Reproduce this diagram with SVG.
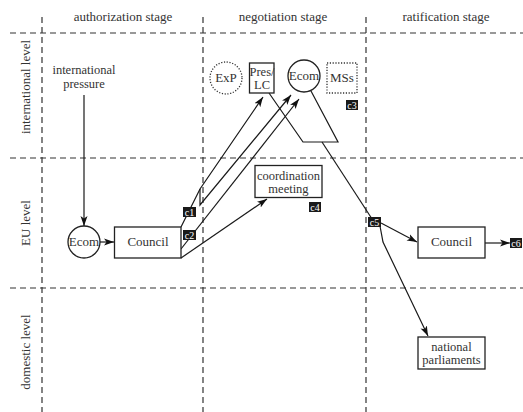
<svg xmlns="http://www.w3.org/2000/svg" width="523" height="412" viewBox="0 0 523 412" font-family="'Liberation Serif', Tinos, 'DejaVu Serif', serif">
<style>
text{font-family:'Liberation Serif', Tinos, 'Times New Roman', serif;fill:#333;font-size:13px;text-anchor:middle}
.grid{stroke:#333;stroke-width:1.2;stroke-dasharray:6,4;fill:none}
.box{fill:#fff;stroke:#222;stroke-width:1.3}
.dot{fill:#fff;stroke:#333;stroke-width:1.3;stroke-dasharray:1.2,1.6}
.ln{fill:none;stroke:#1a1a1a;stroke-width:1.2}
.tag{fill:#1a1a1a}
.tt{fill:#fff;font-size:10px}
.sm{font-size:12.5px}
</style>
<defs>
<marker id="ah" markerWidth="11" markerHeight="8" refX="10" refY="4" orient="auto" markerUnits="userSpaceOnUse">
<path d="M0,0.5 L10,4 L0,7.5 L2.5,4 z" fill="#111"/>
</marker>
</defs>

<g id="grid">
<line class="grid" x1="10" y1="33" x2="523" y2="33"/>
<line class="grid" x1="10" y1="158" x2="523" y2="158"/>
<line class="grid" x1="10" y1="288" x2="523" y2="288"/>
<line class="grid" x1="42" y1="17" x2="42" y2="412"/>
<line class="grid" x1="203" y1="17" x2="203" y2="412"/>
<line class="grid" x1="366" y1="17" x2="366" y2="412"/>
</g>

<g id="headers">
<text x="123" y="21">authorization stage</text>
<text x="283" y="21">negotiation stage</text>
<text x="446" y="21">ratification stage</text>
<text transform="translate(30,87) rotate(-90)">international level</text>
<text transform="translate(30,223) rotate(-90)">EU level</text>
<text transform="translate(30,352) rotate(-90)">domestic level</text>
</g>

<g id="connectors">
<line class="ln" x1="84" y1="95" x2="84" y2="226" marker-end="url(#ah)"/>
<line class="ln" x1="100" y1="242" x2="114" y2="242" marker-end="url(#ah)"/>
<polyline class="ln" points="181,227 200,189 263,97" marker-end="url(#ah)"/>
<polyline class="ln" points="200,189 200,205 291,95" marker-end="url(#ah)"/>
<line class="ln" x1="181" y1="249" x2="299" y2="99" marker-end="url(#ah)"/>
<line class="ln" x1="181" y1="258" x2="267" y2="199" marker-end="url(#ah)"/>
<polyline class="ln" points="269,93 303,142 338,142 311,91"/>
<line class="ln" x1="322" y1="142" x2="374" y2="222"/>
<line class="ln" x1="381" y1="223" x2="417" y2="242" marker-end="url(#ah)"/>
<polyline class="ln" points="380,226 383,242 428,336" marker-end="url(#ah)"/>
<line class="ln" x1="485" y1="243" x2="510" y2="243" marker-end="url(#ah)"/>
</g>

<g id="intl-pressure">
<text class="sm" x="84" y="74">international</text>
<text class="sm" x="84" y="88">pressure</text>
</g>
<g id="ecom1">
<circle class="box" cx="84" cy="242" r="16"/>
<text x="84" y="246">Ecom</text>
</g>
<g id="council1">
<rect class="box" x="114.5" y="227" width="66.5" height="31"/>
<text x="148" y="246">Council</text>
</g>
<g id="exp">
<circle class="dot" cx="226" cy="78" r="16"/>
<text x="226" y="82">ExP</text>
</g>
<g id="preslc">
<rect class="box" x="249.5" y="63" width="24.5" height="30"/>
<text class="sm" x="262" y="75.5">Pres/</text>
<text class="sm" x="262" y="89">LC</text>
</g>
<g id="ecom2">
<circle class="box" cx="304" cy="76" r="16"/>
<text x="304" y="80">Ecom</text>
</g>
<g id="mss">
<rect class="dot" x="327" y="63" width="30" height="30"/>
<text x="342" y="82">MSs</text>
</g>
<g id="coord">
<rect class="box" x="255" y="165.5" width="67" height="32"/>
<text class="sm" x="288.5" y="180">coordination</text>
<text class="sm" x="288.5" y="193">meeting</text>
</g>
<g id="council2">
<rect class="box" x="418" y="227" width="67" height="31"/>
<text x="451.5" y="246">Council</text>
</g>
<g id="natparl">
<rect class="box" x="418" y="337" width="67" height="32"/>
<text class="sm" x="451.5" y="351">national</text>
<text class="sm" x="451.5" y="364">parliaments</text>
</g>

<g id="c1"><rect class="tag" x="183" y="207" width="13" height="10"/><text class="tt" x="189.5" y="215.5">c1</text></g>
<g id="c2"><rect class="tag" x="183" y="230" width="13" height="10"/><text class="tt" x="189.5" y="238.5">c2</text></g>
<g id="c3"><rect class="tag" x="346" y="100" width="12" height="10"/><text class="tt" x="352" y="108.5">c3</text></g>
<g id="c4"><rect class="tag" x="309" y="202" width="12" height="10"/><text class="tt" x="315" y="210.5">c4</text></g>
<g id="c5"><rect class="tag" x="368" y="217" width="13" height="10"/><text class="tt" x="374.5" y="225.5">c5</text></g>
<g id="c6"><rect class="tag" x="510" y="238" width="12" height="10"/><text class="tt" x="516" y="246.5">c6</text></g>
</svg>
